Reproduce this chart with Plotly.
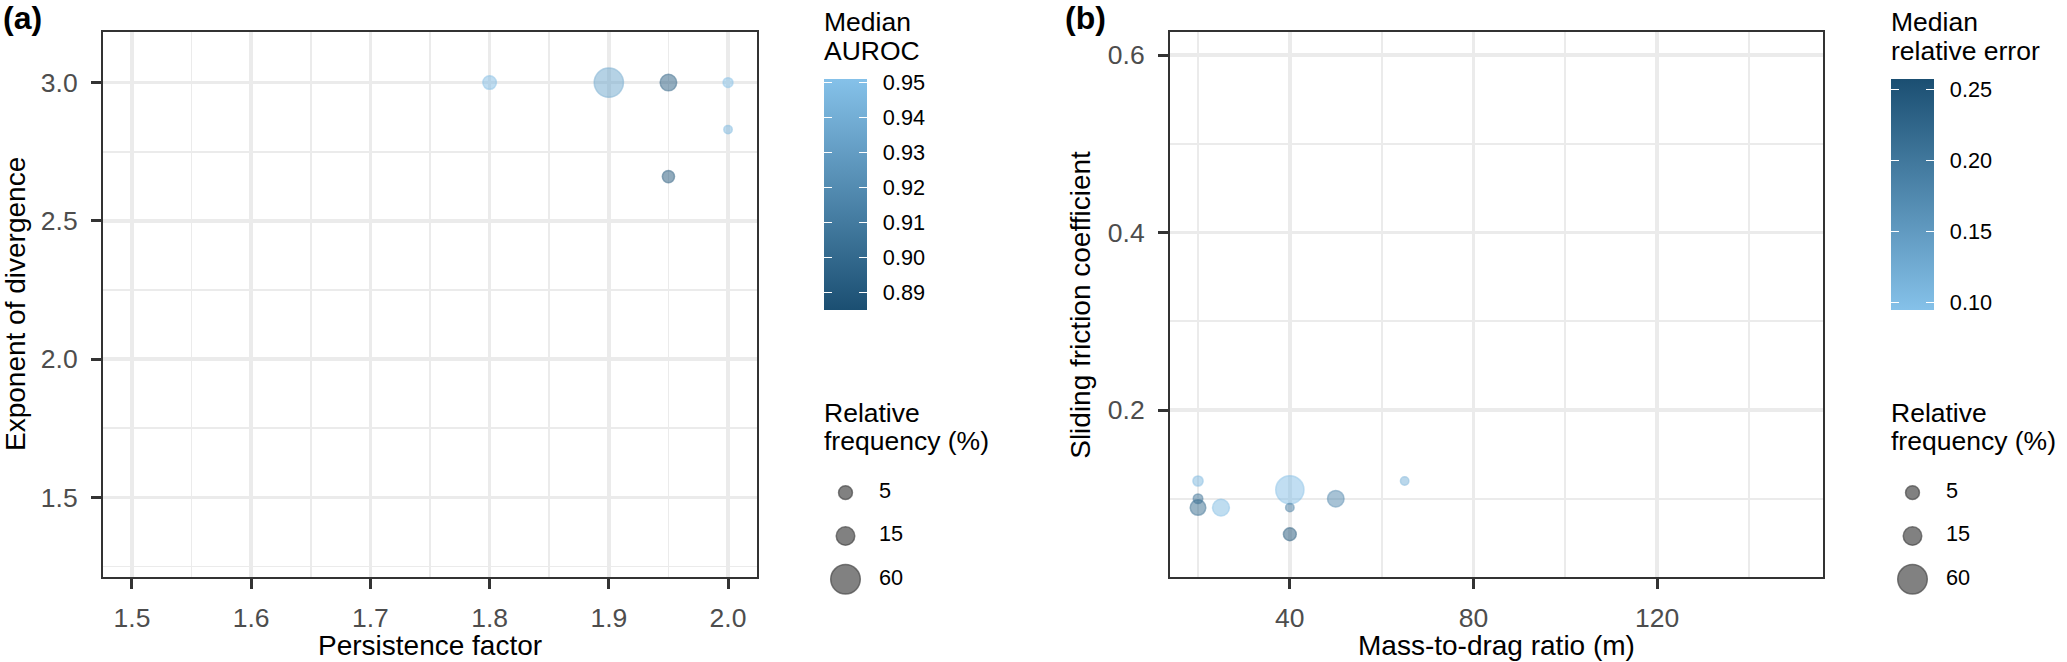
import math
import plotly.graph_objects as go

# ---------------- data ----------------
# Panel (a)
a_persistence = [1.8, 1.9, 1.95, 2.0, 2.0, 1.95]
a_exponent = [3.0, 3.0, 3.0, 3.0, 2.83, 2.66]
a_auroc = [0.948, 0.935, 0.893, 0.950, 0.945, 0.888]
a_freq = [4.5, 58, 10, 0.7, 0.1, 2.7]
a_x_ticks = [1.5, 1.6, 1.7, 1.8, 1.9, 2.0]
a_y_ticks = [1.5, 2.0, 2.5, 3.0]
a_cbar_ticks = [0.89, 0.90, 0.91, 0.92, 0.93, 0.94, 0.95]
a_cbar_lim = [0.885, 0.951]

# Panel (b)
b_mass = [20, 20, 20, 25, 40, 40, 40, 50, 65]
b_friction = [0.12, 0.10, 0.09, 0.09, 0.11, 0.09, 0.06, 0.10, 0.12]
b_error = [0.11, 0.21, 0.22, 0.105, 0.10, 0.19, 0.25, 0.18, 0.12]
b_freq = [0.9, 0.5, 7.9, 10.6, 52.8, 0.1, 3.5, 10, 0.1]
b_x_ticks = [40, 80, 120]
b_y_ticks = [0.2, 0.4, 0.6]
b_cbar_ticks = [0.10, 0.15, 0.20, 0.25]
b_cbar_lim = [0.0949, 0.2572]

size_breaks = [5, 15, 60]

# ---------------- styling ----------------
W, H = 2067, 662
FONT = "Liberation Sans, Arial, Helvetica, sans-serif"
DARK = "#1B4F72"
LIGHT = "#85C1E9"
ALPHA = 0.7
GRID = "#EBEBEB"
AXCOL = "#333333"
TICKCOL = "#4D4D4D"
LW = 1.5


def fx(p):
    return p / W


def fy(p):
    return 1 - p / H


def hex_rgba(h, a):
    h = h.lstrip("#")
    return "rgba(%d,%d,%d,%s)" % (int(h[0:2], 16), int(h[2:4], 16), int(h[4:6], 16), a)


def diam(freqs):
    return [9.0 + 2.85 * math.sqrt(v) - LW for v in freqs]


scale_a = [[0, DARK], [1, LIGHT]]
scale_b = [[0, LIGHT], [1, DARK]]
scale_a_alpha = [[0, hex_rgba(DARK, ALPHA)], [1, hex_rgba(LIGHT, ALPHA)]]
scale_b_alpha = [[0, hex_rgba(LIGHT, ALPHA)], [1, hex_rgba(DARK, ALPHA)]]
clear_scale = [[0, "rgba(0,0,0,0)"], [1, "rgba(0,0,0,0)"]]

fig = go.Figure()


def add_points(xs, ys, vals, freqs, scale, lim, xa, ya):
    fig.add_trace(go.Scatter(
        x=xs, y=ys, mode="markers", xaxis=xa, yaxis=ya, cliponaxis=False,
        marker=dict(size=diam(freqs), color=vals, colorscale=scale,
                    cmin=lim[0], cmax=lim[1], showscale=False,
                    line=dict(width=LW, color=vals, colorscale=scale,
                              cmin=lim[0], cmax=lim[1])),
        showlegend=False, hoverinfo="skip"))


def add_colorbar(xs, ys, vals, scale, lim, ticks, xa, ya, left):
    top = 79
    length = 231
    common = dict(y=fy(top), yanchor="top", len=length, lenmode="pixels",
                  thicknessmode="pixels", xpad=0, ypad=0, outlinewidth=0,
                  tickvals=ticks, xanchor="left")
    cbs = [
        dict(common, x=fx(left), thickness=43, ticks="inside", ticklen=43,
             tickcolor="white", tickwidth=1.5, showticklabels=False),
        dict(common, x=fx(left + 8), thickness=27, ticks="", showticklabels=False),
        dict(common, x=fx(left), thickness=43, ticks="outside", ticklen=12,
             tickcolor="rgba(0,0,0,0)", showticklabels=True, tickformat=".2f",
             tickfont=dict(family=FONT, size=21.7, color="black")),
    ]
    for i, cb in enumerate(cbs):
        fig.add_trace(go.Scatter(
            x=[xs[0]], y=[ys[0]], mode="markers", xaxis=xa, yaxis=ya,
            marker=dict(size=1, opacity=0, color=[vals[0]],
                        colorscale=clear_scale if i == 2 else scale,
                        cmin=lim[0], cmax=lim[1], showscale=True, colorbar=cb),
            showlegend=False, hoverinfo="skip"))


def add_size_legend(xa, ya):
    labels = [str(b) for b in size_breaks]
    fig.add_trace(go.Scatter(
        x=[0] * len(size_breaks), y=labels, mode="markers", xaxis=xa, yaxis=ya,
        cliponaxis=False,
        marker=dict(size=diam(size_breaks), color="rgba(0,0,0,%s)" % ALPHA,
                    line=dict(width=LW, color="rgba(0,0,0,%s)" % ALPHA)),
        showlegend=False, hoverinfo="skip"))
    fig.add_trace(go.Scatter(
        x=[1] * len(size_breaks), y=labels, mode="text", xaxis=xa, yaxis=ya,
        cliponaxis=False,
        text=labels, textposition="middle right",
        textfont=dict(family=FONT, size=21.7, color="black"),
        showlegend=False, hoverinfo="skip"))


# panel a
add_points(a_persistence, a_exponent, a_auroc, a_freq, scale_a_alpha, a_cbar_lim, "x", "y")
add_colorbar(a_persistence, a_exponent, a_auroc, scale_a, a_cbar_lim, a_cbar_ticks, "x", "y", 824)
add_size_legend("x3", "y3")
# panel b
add_points(b_mass, b_friction, b_error, b_freq, scale_b_alpha, b_cbar_lim, "x2", "y2")
add_colorbar(b_mass, b_friction, b_error, scale_b, b_cbar_lim, b_cbar_ticks, "x2", "y2", 1891)
add_size_legend("x4", "y4")

axis_common = dict(
    showline=True, mirror=True, linecolor=AXCOL, linewidth=2,
    showgrid=True, gridcolor=GRID, gridwidth=3.5, zeroline=False,
    ticks="outside", ticklen=10, tickwidth=3, tickcolor=AXCOL,
    tickfont=dict(family=FONT, size=26.5, color=TICKCOL),
    fixedrange=True,
)

y_dom = [fy(577), fy(32)]

fig.update_layout(
    width=W, height=H, margin=dict(l=0, r=0, t=0, b=0, autoexpand=False),
    paper_bgcolor="white", plot_bgcolor="white", showlegend=False,
    xaxis=dict(axis_common, domain=[fx(103), fx(757)], range=[1.4757, 2.0243],
               tickvals=a_x_ticks, tickformat=".1f", anchor="y",
               ticklabelstandoff=6,
               minor=dict(tick0=1.45, dtick=0.1, showgrid=True, gridcolor=GRID,
                          gridwidth=1.8, ticks="")),
    yaxis=dict(axis_common, domain=y_dom, range=[1.212, 3.183],
               tickvals=a_y_ticks, tickformat=".1f", anchor="x",
               ticklabelstandoff=8,
               minor=dict(tick0=1.25, dtick=0.5, showgrid=True, gridcolor=GRID,
                          gridwidth=1.8, ticks="")),
    xaxis2=dict(axis_common, domain=[fx(1170), fx(1823)], range=[13.9, 156.1],
                tickvals=b_x_ticks, anchor="y2",
                ticklabelstandoff=6,
                minor=dict(tick0=20, dtick=40, showgrid=True, gridcolor=GRID,
                           gridwidth=1.8, ticks="")),
    yaxis2=dict(axis_common, domain=y_dom, range=[0.0118, 0.626],
                tickvals=b_y_ticks, tickformat=".1f", anchor="x2",
                ticklabelstandoff=8,
                minor=dict(tick0=0.1, dtick=0.2, showgrid=True, gridcolor=GRID,
                           gridwidth=1.8, ticks="")),
    xaxis3=dict(domain=[fx(846 - 34), fx(846 + 33)], range=[-1, 1], visible=False,
                anchor="y3", fixedrange=True),
    yaxis3=dict(domain=[fy(601), fy(471)], type="category", range=[2.5, -0.5],
                visible=False, anchor="x3", fixedrange=True),
    xaxis4=dict(domain=[fx(1913 - 34), fx(1913 + 33)], range=[-1, 1], visible=False,
                anchor="y4", fixedrange=True),
    yaxis4=dict(domain=[fy(601), fy(471)], type="category", range=[2.5, -0.5],
                visible=False, anchor="x4", fixedrange=True),
)

annotations = []


def ann(text, x, y, size, xanchor="left", angle=0, color="black"):
    annotations.append(dict(
        text=text, x=fx(x), y=fy(y), xref="paper", yref="paper",
        xanchor=xanchor, yanchor="middle", showarrow=False, textangle=angle,
        font=dict(family=FONT, size=size, color=color)))


# panel labels
ann("<b>(a)</b>", 1, 18, 32)
ann("<b>(b)</b>", 1063, 18, 32)
# axis titles
ann("Persistence factor", 430, 645, 28, xanchor="center")
ann("Mass-to-drag ratio (m)", 1496.5, 645, 28, xanchor="center")
ann("Exponent of divergence", 15.5, 304.5, 28, xanchor="center", angle=-90)
ann("Sliding friction coefficient", 1080.3, 304.5, 28, xanchor="center", angle=-90)
# legend titles
for left, second in [(822, "AUROC"), (1889, "relative error")]:
    ann("Median", left, 22.5, 26.5)
    ann(second, left, 51.5, 26.5)
    ann("Relative", left, 413, 26.5)
    ann("frequency (%)", left, 441, 26.5)

fig.update_layout(annotations=annotations)

fig.write_html(
    "out.html",
    config={"displayModeBar": False, "staticPlot": True},
    post_script="document.body.style.margin='0';document.body.style.overflow='hidden';",
)
